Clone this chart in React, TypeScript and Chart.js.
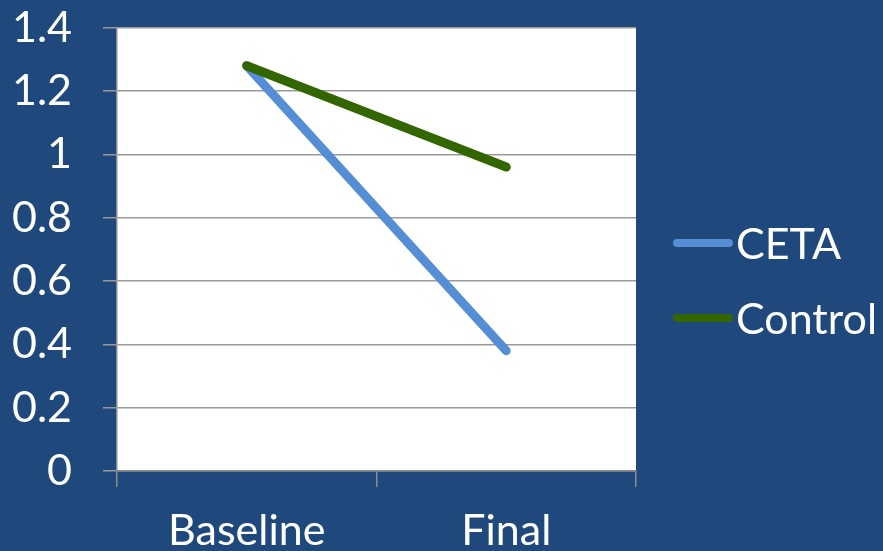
import React, { useEffect, useRef } from "react";
import { Chart, registerables } from "chart.js";

Chart.register(...registerables);

const categories = ["Baseline", "Final"];
const cetaValues = [1.28, 0.38];
const controlValues = [1.28, 0.96];
const seriesNames = ["CETA", "Control"];
const seriesColors = ["#558ED5", "#336600"];

const BG = "#1F497D";
const FONT = "Lato, 'Open Sans', sans-serif";
const FONT_SIZE = 43;

// White plot area behind the grid
const plotBackground = {
  id: "plotBackground",
  beforeDraw(chart: any) {
    const { ctx, chartArea } = chart;
    ctx.save();
    ctx.fillStyle = "#ffffff";
    ctx.fillRect(chartArea.left, chartArea.top, chartArea.right - chartArea.left, chartArea.bottom - chartArea.top);
    ctx.restore();
  },
};

// Legend to the right: a rounded line swatch followed by the series name
const sideLegend = {
  id: "sideLegend",
  afterDraw(chart: any) {
    const { ctx } = chart;
    const sets = chart.data.datasets;
    const x0 = 673;
    const len = 60;
    const gap = 75;
    const midY = 280.5;
    const startY = midY - ((sets.length - 1) * gap) / 2;
    ctx.save();
    ctx.font = `${FONT_SIZE}px ${FONT}`;
    ctx.textBaseline = "middle";
    ctx.textAlign = "left";
    sets.forEach((ds: any, i: number) => {
      const y = startY + i * gap;
      ctx.strokeStyle = ds.borderColor;
      ctx.lineWidth = 8;
      ctx.lineCap = "round";
      ctx.beginPath();
      ctx.moveTo(x0 + 4, y);
      ctx.lineTo(x0 + len - 4, y);
      ctx.stroke();
      ctx.fillStyle = "#ffffff";
      ctx.fillText(ds.label, x0 + len + 3, y + 2);
    });
    ctx.restore();
  },
};

export default function App() {
  const canvasRef = useRef<HTMLCanvasElement | null>(null);

  useEffect(() => {
    document.body.style.margin = "0";
    const canvas = canvasRef.current;
    if (!canvas) return;
    const chart = new Chart(canvas, {
      type: "line",
      data: {
        labels: categories,
        datasets: [
          {
            label: seriesNames[0],
            data: cetaValues,
            borderColor: seriesColors[0],
            backgroundColor: seriesColors[0],
            borderWidth: 9,
            borderCapStyle: "round",
            pointRadius: 0,
            tension: 0,
            order: 1,
          },
          {
            label: seriesNames[1],
            data: controlValues,
            borderColor: seriesColors[1],
            backgroundColor: seriesColors[1],
            borderWidth: 9,
            borderCapStyle: "round",
            pointRadius: 0,
            tension: 0,
            order: 0,
          },
        ],
      },
      options: {
        animation: false,
        responsive: false,
        maintainAspectRatio: false,
        layout: { padding: { top: 27.7, right: 247, left: 0, bottom: 0 } },
        plugins: {
          legend: { display: false },
          tooltip: { enabled: false },
        },
        scales: {
          x: {
            offset: true,
            grid: {
              offset: true,
              drawOnChartArea: false,
              drawTicks: true,
              tickLength: 16,
              color: "#8c8c8c",
              lineWidth: 1.5,
            },
            border: { color: "#8c8c8c", width: 1.5 },
            ticks: {
              color: "#ffffff",
              font: { family: FONT, size: FONT_SIZE },
              padding: 18,
              maxRotation: 0,
            },
            afterFit(scale: any) {
              scale.height = 80;
              scale.paddingLeft = 0;
              scale.paddingRight = 0;
            },
          },
          y: {
            min: 0,
            max: 1.4,
            ticks: {
              stepSize: 0.2,
              color: "#ffffff",
              font: { family: FONT, size: FONT_SIZE },
              padding: 31,
              callback: (v: any) => String(Math.round(Number(v) * 10) / 10),
            },
            grid: {
              color: "#9a9a9a",
              lineWidth: 1.5,
              tickLength: 14,
            },
            border: { color: "#8c8c8c", width: 1.5 },
            afterFit(scale: any) {
              scale.width = 117;
              scale.paddingTop = 0;
              scale.paddingBottom = 0;
            },
          },
        },
      },
      plugins: [plotBackground, sideLegend],
    });
    return () => chart.destroy();
  }, []);

  return (
    <div style={{ width: 883, height: 551, background: BG }}>
      <canvas ref={canvasRef} width={883} height={551} style={{ display: "block" }} />
    </div>
  );
}
